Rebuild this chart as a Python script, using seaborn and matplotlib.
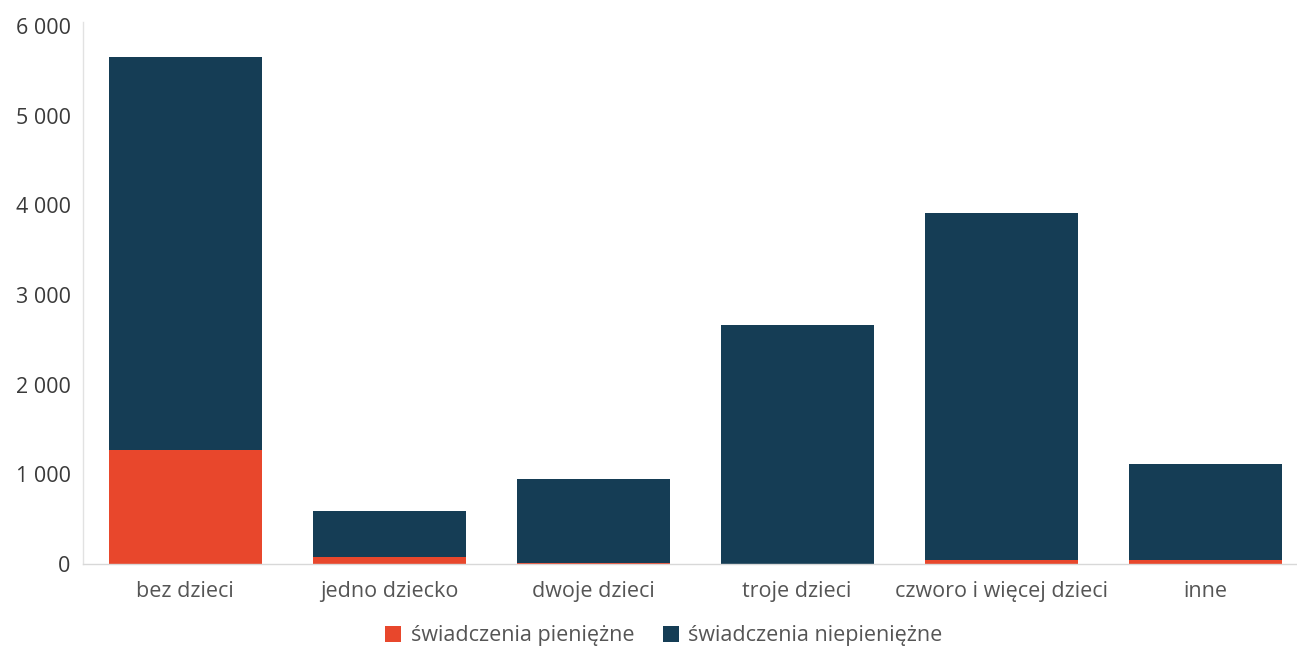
import matplotlib
matplotlib.use("Agg")
import matplotlib.pyplot as plt
import seaborn as sns
import pandas as pd
from matplotlib.patches import Patch

categories = ["bez dzieci", "jedno dziecko", "dwoje dzieci", "troje dzieci",
              "czworo i więcej dzieci", "inne"]
pieniezne = [1270, 80, 10, 5, 45, 40]
niepieniezne = [4380, 510, 940, 2655, 3875, 1080]
series_names = ["świadczenia pieniężne", "świadczenia niepieniężne"]
yticks = [0, 1000, 2000, 3000, 4000, 5000, 6000]
ytick_labels = ["0", "1 000", "2 000", "3 000", "4 000", "5 000", "6 000"]

RED = "#e8472c"
NAVY = "#153d55"

sns.set_theme(style="white")
plt.rcParams["font.family"] = ["Open Sans", "DejaVu Sans"]

df = pd.DataFrame({
    "kategoria": categories,
    "pien": pieniezne,
    "total": [p + n for p, n in zip(pieniezne, niepieniezne)],
})

fig = plt.figure(figsize=(12.97, 6.53), dpi=100)
ax = fig.add_axes([83 / 1297, 89 / 653, 1 - 83 / 1297, (564 - 22) / 653])

sns.barplot(data=df, x="kategoria", y="total", color=NAVY, width=0.75,
            saturation=1, ax=ax, linewidth=0)
sns.barplot(data=df, x="kategoria", y="pien", color=RED, width=0.75,
            saturation=1, ax=ax, linewidth=0)

ax.set_xlim(-0.5, 5.45)
ax.set_ylim(0, 6000 * (564 - 22) / (564 - 26))
ax.set_yticks(yticks)
ax.set_yticklabels(ytick_labels)
ax.set_xlabel("")
ax.set_ylabel("")
ax.tick_params(axis="y", length=0, pad=9, labelsize=15.5, labelcolor="#3a3a3a")
ax.tick_params(axis="x", length=0, pad=12, labelsize=15.5, labelcolor="#555555")
for s in ["top", "right"]:
    ax.spines[s].set_visible(False)
ax.spines["left"].set_color("#e2e2e2")
ax.spines["bottom"].set_color("#d8d8d8")
ax.spines["left"].set_linewidth(1)
ax.spines["bottom"].set_linewidth(1)

handles = [Patch(facecolor=RED, edgecolor="none"), Patch(facecolor=NAVY, edgecolor="none")]
fig.legend(handles, series_names, loc="center", bbox_to_anchor=(664 / 1297, 1 - 636 / 653),
           ncol=2, frameon=False, fontsize=15.5, labelcolor="#555555",
           handlelength=0.75, handleheight=0.8, handletextpad=0.45, columnspacing=1.3)

fig.savefig("out.png", dpi=100, facecolor="white")
